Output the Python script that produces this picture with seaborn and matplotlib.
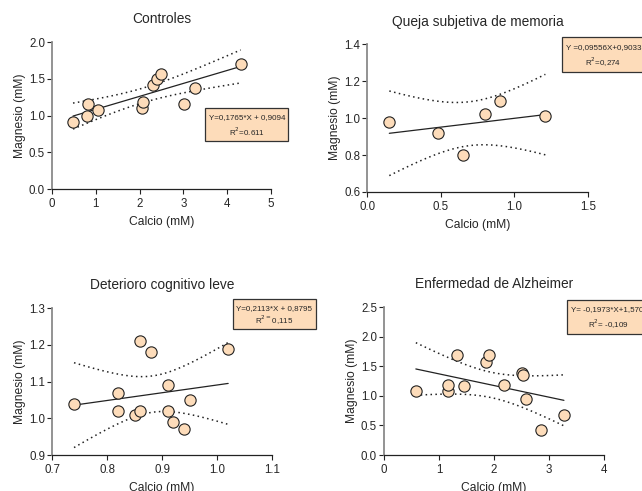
# Calcio vs Magnesio por grupo, con recta de regresion y bandas de confianza 95%

import numpy as np
import pandas as pd
import seaborn as sns
import matplotlib.pyplot as plt
from matplotlib.patches import Rectangle
from matplotlib.ticker import FormatStrFormatter

sns.set_style('ticks')
plt.rcParams['font.family'] = ['Liberation Sans', 'DejaVu Sans']

# Datos
titles = ['Controles', 'Queja subjetiva de memoria',
          'Deterioro cognitivo leve', 'Enfermedad de Alzheimer']

ctrl_ca = [0.48, 0.83, 0.81, 1.04, 2.05, 2.08, 2.31, 2.40, 2.50, 3.02, 3.26, 4.31]
ctrl_mg = [0.92, 1.16, 1.00, 1.07, 1.10, 1.18, 1.42, 1.50, 1.57, 1.16, 1.37, 1.71]

qsm_ca = [0.15, 0.48, 0.65, 0.80, 0.90, 1.21]
qsm_mg = [0.98, 0.92, 0.80, 1.02, 1.09, 1.01]

dcl_ca = [0.74, 0.82, 0.82, 0.85, 0.86, 0.86, 0.88, 0.91, 0.91, 0.92, 0.94, 0.95, 1.02]
dcl_mg = [1.04, 1.07, 1.02, 1.01, 1.02, 1.21, 1.18, 1.09, 1.02, 0.99, 0.97, 1.05, 1.19]

ea_ca = [0.58, 1.16, 1.16, 1.33, 1.45, 1.86, 1.91, 2.18, 2.51, 2.53, 2.58, 2.85, 3.27]
ea_mg = [1.08, 1.08, 1.19, 1.70, 1.16, 1.57, 1.70, 1.18, 1.38, 1.35, 0.94, 0.42, 0.68]

slopes = [0.1765, 0.09556, 0.2113, -0.1973]
intercepts = [0.9094, 0.9033, 0.8795, 1.570]
eq_labels = ['Y=0,1765*X + 0,9094', 'Y =0,09556X+0,9033',
             'Y=0,2113*X + 0,8795', 'Y= -0,1973*X+1,570']
r2_labels = ['R$^2$=0.611', 'R$^2$=0,274', 'R$^{2=}$0,115', 'R$^2$= -0,109']
t_crit = [2.228, 2.776, 2.201, 2.179]

xlims = [(0, 5), (0, 1.5), (0.7, 1.1), (0, 4)]
ylims = [(0, 2.0), (0.6, 1.4), (0.9, 1.3), (0, 2.5)]
xticks = [np.arange(0, 5.1, 1), np.arange(0, 1.51, 0.5), np.arange(0.7, 1.11, 0.1), np.arange(0, 4.1, 1)]
yticks = [np.arange(0, 2.01, 0.5), np.arange(0.6, 1.41, 0.2), np.arange(0.9, 1.31, 0.1), np.arange(0, 2.51, 0.5)]
xfmt = ['%d', '%.1f', '%.1f', '%d']

groups = [(ctrl_ca, ctrl_mg), (qsm_ca, qsm_mg), (dcl_ca, dcl_mg), (ea_ca, ea_mg)]

fig = plt.figure(figsize=(6.42, 4.91), dpi=100)
positions = [[0.081, 0.615, 0.341, 0.299], [0.572, 0.609, 0.344, 0.301],
             [0.081, 0.0733, 0.343, 0.299], [0.598, 0.0733, 0.343, 0.301]]
boxes = [(0.70, 0.33, 0.38, 0.22), (0.88, 0.81, 0.40, 0.24),
         (0.82, 0.86, 0.38, 0.20), (0.83, 0.82, 0.40, 0.23)]
title_pads = [14, 13, 14, 14]

peach = '#FDDCBA'
narrow = ['Liberation Sans Narrow', 'Liberation Sans']

for i, (ca, mg) in enumerate(groups):
    ax = fig.add_axes(positions[i])
    df = pd.DataFrame({'Calcio': ca, 'Magnesio': mg})

    # recta y banda de confianza de la media
    x = np.array(ca)
    y = np.array(mg)
    n = len(x)
    xs = np.linspace(x.min(), x.max(), 60)
    fit = slopes[i] * xs + intercepts[i]
    resid = y - (slopes[i] * x + intercepts[i])
    s = np.sqrt(np.sum(resid ** 2) / (n - 2))
    se = s * np.sqrt(1 / n + (xs - x.mean()) ** 2 / np.sum((x - x.mean()) ** 2))
    band = pd.DataFrame({'x': xs, 'fit': fit,
                         'lo': fit - t_crit[i] * se, 'hi': fit + t_crit[i] * se})

    sns.lineplot(data=band, x='x', y='fit', color='#222222', lw=0.9, ax=ax)
    for col in ['lo', 'hi']:
        sns.lineplot(data=band, x='x', y=col, color='#222222', lw=1.1,
                     linestyle=(0, (1, 2.2)), ax=ax)
    sns.scatterplot(data=df, x='Calcio', y='Magnesio', s=66, color=peach,
                    edgecolor='#222222', linewidth=0.8, ax=ax, zorder=3, clip_on=False)

    ax.set_xlim(*xlims[i])
    ax.set_ylim(*ylims[i])
    ax.set_xticks(xticks[i])
    ax.set_yticks(yticks[i])
    ax.xaxis.set_major_formatter(FormatStrFormatter(xfmt[i]))
    ax.yaxis.set_major_formatter(FormatStrFormatter('%.1f'))
    ax.tick_params(labelsize=8.3, length=3.5, width=0.8, pad=1.5, color='#222222')
    ax.tick_params(axis='x', pad=3)
    ax.set_xlabel('Calcio (mM)', fontsize=8.7, labelpad=4)
    ax.set_ylabel('Magnesio (mM)', fontsize=8.7, labelpad=2)
    ax.set_title(titles[i], fontsize=9.9, pad=title_pads[i])
    sns.despine(ax=ax)
    ax.spines['left'].set_color('#8a8a8a')
    ax.spines['left'].set_linewidth(1.3)
    ax.spines['bottom'].set_color('#222222')
    ax.spines['bottom'].set_linewidth(0.9)

    bx, by, bw, bh = boxes[i]
    ax.add_patch(Rectangle((bx, by), bw, bh, transform=ax.transAxes, facecolor=peach,
                           edgecolor='#333333', lw=0.9, clip_on=False, zorder=4))
    cx = bx + bw / 2 if i in (0, 2) else bx + 0.02
    ha = 'center' if i in (0, 2) else 'left'
    ax.text(cx, by + bh * 0.70, eq_labels[i], transform=ax.transAxes, fontsize=5.8,
            ha=ha, va='center', zorder=5, family=narrow)
    ax.text(bx + (bw / 2 if i in (0, 2) else 0.19), by + bh * 0.28, r2_labels[i],
            transform=ax.transAxes, fontsize=5.8, ha='center', va='center', zorder=5,
            family=narrow)

fig.savefig('out.png', dpi=100)
